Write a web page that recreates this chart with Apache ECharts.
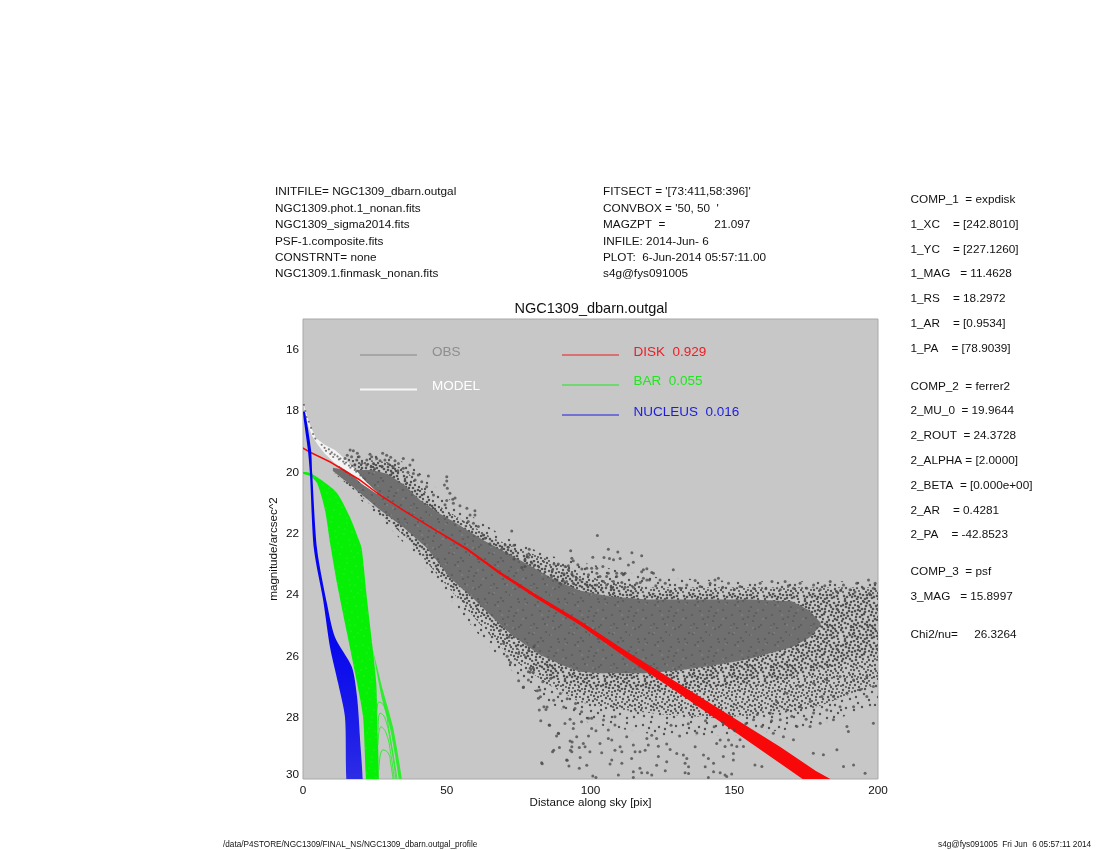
<!DOCTYPE html>
<html><head><meta charset="utf-8">
<style>html,body{margin:0;padding:0;background:#fff}#c{width:1100px;height:850px}</style>
<script src="https://cdn.jsdelivr.net/npm/echarts@6/dist/echarts.min.js"></script>
</head><body><div id="c"></div>
<script>
const chartTitle='NGC1309_dbarn.outgal';
const xAxisName='Distance along sky [pix]';
const yAxisName='magnitude/arcsec^2';
const xTicks=[0,50,100,150,200];
const yTicks=[16,18,20,22,24,26,28,30];
const headerLeft=['INITFILE= NGC1309_dbarn.outgal','NGC1309.phot.1_nonan.fits','NGC1309_sigma2014.fits','PSF-1.composite.fits','CONSTRNT= none','NGC1309.1.finmask_nonan.fits'];
const headerMid=["FITSECT = '[73:411,58:396]'","CONVBOX = '50, 50  '",'MAGZPT  =               21.097','INFILE: 2014-Jun- 6','PLOT:  6-Jun-2014 05:57:11.00','s4g@fys091005'];
const paramText=['COMP_1  = expdisk','1_XC    = [242.8010]','1_YC    = [227.1260]','1_MAG   = 11.4628','1_RS    = 18.2972','1_AR    = [0.9534]','1_PA    = [78.9039]','COMP_2  = ferrer2','2_MU_0  = 19.9644','2_ROUT  = 24.3728','2_ALPHA = [2.0000]','2_BETA  = [0.000e+00]','2_AR    = 0.4281','2_PA    = -42.8523','COMP_3  = psf','3_MAG   = 15.8997','Chi2/nu=     26.3264'];
const footLeft='/data/P4STORE/NGC1309/FINAL_NS/NGC1309_dbarn.outgal_profile';
const footRight='s4g@fys091005  Fri Jun  6 05:57:11 2014';

// Red disk band: radius, bright edge, faint edge
const diskX=[0,2.4,9.4,19.8,25.7,34.8,44.2,57,68.5,81.4,96.3,113.7,131.1,148.5,165.9,178.4,190];
const diskBright=[19.18,19.31,19.63,20.22,20.64,21.2,21.75,22.46,23.23,24,24.84,25.91,26.91,27.93,28.95,29.74,30.34];
const diskFaint=[19.24,19.37,19.69,20.28,20.7,21.26,21.81,22.54,23.33,24.12,24.98,26.13,27.23,28.35,29.49,30.3,31];

// Bar component band edges (x,y pairs)
const barOuter=[0,19.99,2.4,20.02,5.9,20.22,11.8,20.67,16.3,21.46,19.8,22.3,20.5,22.53,22.3,24.16,24.3,25.79,25.5,26.9,25.8,28,26.1,30.6];
const barInner=[22.6,30.6,20.9,27.98,18.8,26.87,15.3,25.24,11.8,23.61,9.4,22.3,7.65,21.23,4.9,20.35,2.4,20.12,0,20.05];
const barRim=[24.3,25.79,27.8,27.1,31.3,28.3,34.4,30,34.6,30.6,33.5,30.6,33.3,30,30.4,28.4,27.5,27.4];
const barArc1=[25.7,27.91,26.4,27.49,28.2,27.62,29.9,28.4,32.7,30];
const barArc2=[26.1,28.4,26.8,27.85,28.5,28.01,30.6,28.89,32.3,30];
const barArc3=[26.1,28.89,27.1,28.3,28.9,28.5,30.6,29.22,31.7,30];
const barArc4=[26.4,29.7,27.8,29.05,29.6,29.15,30.6,29.54,31.3,30];

// Nucleus band edges
const nucLeft=[0,18.03,1.7,19.27,2.4,20.02,3.8,22.5,7,24.16,9.4,25.7,12.2,26.87,14.6,27.98,15.7,30.6];
const nucRight=[20.5,30.6,19.8,28.63,18.8,27.32,17,26.35,11.1,25.37,8.3,24.26,4.9,22.5,3.2,20.02,2.8,19.27,0.7,18.03];

// Model (white) wedge
const modelTop=[0,17.71,1.04,18.03,2.43,18.46,4.52,18.88,7.65,19.11,11.1,19.27,14.6,19.56,18.1,19.89,21.6,20.28,25.7,20.64];
const modelBottom=[25.7,20.71,20.5,20.38,16.3,20.02,11.1,19.7,7.65,19.4,5.2,19.11,3.1,18.81,1.4,18.36,0.35,17.9];

// Observed cloud, read as nested density zones (edges, x,y pairs)
const coreTop=[10.4,19.85,14.6,19.92,19.1,19.92,24,19.92,29.2,20.05,34.8,20.38,40.7,20.9,46.6,21.29,53.6,21.68,62.6,22.21,70.3,22.6,79,23.05,87.7,23.51,96.3,23.85,106.8,24.05,119.7,24.15,131.1,24.15,142.6,24.15,155.5,24.15,170,24.2,176,24.5,180,24.9];
const coreBottom=[180,25,176,25.4,170,25.7,154.4,26.1,142.6,26.3,131.1,26.45,119.7,26.55,103.3,26.55,96.3,26.5,90.4,26.3,82.4,25.95,73,25.34,66.1,24.75,59.1,24.1,51.1,23.44,43.1,22.47,34.8,21.78,26.8,21.23,17.4,20.48,10.4,19.96];
const denseTop=[13,19.7,25,19.72,32,19.85,38,20.3,44,20.95,52,21.5,62,22,75,22.6,88,23.2,100,23.6,120,23.95,150,23.95,180,23.95,200,23.95];
const denseBottom=[200,26,177,26.5,160,26.9,140,27,120,27.1,100,27.05,88,26.8,75,25.8,63,24.7,50,23.55,40,22.5,28,21.45,18,20.6,11,20.05];
const midTop=[14.6,19.6,23,19.6,30,19.67,35.7,19.93,42.7,20.64,47.9,21.13,56.6,21.62,65.4,22.11,75,22.5,90,23,100,23.4,120,23.75,150,23.75,180,23.75,200,23.75];
const midBottom=[200,26.9,177.4,27.7,163,27.9,142.6,28,125,27.9,107,27.7,96.3,27.5,84.9,26.9,73,26.1,62,25,50,23.7,40,22.6];
const sparseTop=[14.6,19.4,30,19.45,38,19.8,45,20.4,55,21.2,70,22.1,85,22.7,100,23,120,23.4,150,23.55,180,23.55,200,23.55];
const sparseBottom=[200,27.6,177,28.3,150,28.6,125,28.6,100,28.2,85,27.5,73,26.5,62,25.4,50,24,40,22.8,30,21.8,20,20.9];

// Observed: individual scatter points (x,y pairs)
const obsRise=[0.3,17.8,0.8,18,1.2,18.2,2,18.35,2.8,18.55,3.5,18.75,4.3,18.9,6.5,19.1,7.5,19.2,8,19.3,9,19.25,9.5,19.4,10,19.35,10.5,19.5,11,19.42,12,19.48,12.5,19.58,13,19.55,14,19.65,14.5,19.72,15,19.68,16,19.78,16.5,19.85,17,19.8,18,19.92,18.5,19.98,19,19.95,20,20.1,21,20.18];
const obsUpperLeft=[16.4,19.27,17.5,19.3,18.9,19.38,15.4,19.44,16.9,19.49,19.5,19.49,14.6,19.55,18.7,19.6,23.3,19.41,23.9,19.49,27.7,19.38,29.1,19.44,30.5,19.51,34.9,19.55,38.2,19.6,25.6,19.55,22.2,19.6,26.8,19.62,28.5,19.6,32,19.62,33.2,19.71,37.2,19.76,24.5,19.71,22.2,19.76,29.7,19.73,31.4,19.82,34.9,19.87,38.4,20.04,40.1,20.09,43.6,20.12,41.3,20.31,39,20.25,43,20.47,45.4,20.74,36.5,20,33,19.95,31,20.02,27.5,19.8,25,19.88,20.5,19.7,18,19.75];
const obsUpperMid=[50,20.14,50,20.28,49.2,20.41,50.2,20.52,51.1,20.68,52.9,20.84,52.1,20.88,50,20.92,49.4,21.06,52.3,21.01,54.6,21.09,57,21.17,59.8,21.25,58.1,21.39,59.8,21.39,57.5,21.6,59.3,21.66,72.6,21.91,61,21.77,62.7,22.04,63.3,22.15,65,22.33,70.3,22.37,73.4,22.38,69.1,22.51,78.7,22.51,71.4,22.44,70.9,22.64,78,22.69,78.4,22.77,77.2,22.85,73.4,22.83,79.6,22.96,77.2,23.07,76.1,23.1,80.4,23.05,93.1,22.56,93.5,22.8,94,22.88,102.4,22.06,106.2,22.51,109.5,22.6,114.4,22.62,117.8,22.72,100.8,22.77,104.7,22.78,106.6,22.81,108,22.85,110.3,22.81,114.9,22.93,113.2,23.02,87.3,22.99,88.8,22.99,91.2,23.07,92.3,23.05,95.6,23.01,86.7,23.2,92.3,23.18,97,23.15,98.7,23.13,100.4,23.13,102.2,23.13,104.3,23.07,117.8,23.24,119.6,23.14,121.9,23.29,102.2,23.29,106.2,23.29,109.1,23.29,110.9,23.29,112,23.29,90.8,23.31,93.5,23.31,94,23.38,99.3,23.34,103.3,23.4,105.6,23.4,118.4,23.45,120.5,23.51,86.5,23.4,90.6,23.54,91.7,23.56,95.2,23.45,96.4,23.51,108,23.56,110.9,23.59,116.1,23.62,117.3,23.59,88.3,23.51,89.4,23.62,105.6,23.67,107.4,23.78,112,23.75,114.9,23.75,94,23.62,98.7,23.67,102.2,23.67,104.5,23.56];
const obsUpperRight=[109.1,23.4,111.4,23.34,118.4,23.18,121.3,23.27,119.6,23.51,124.2,23.51,128.8,23.18,133.5,23.67,136.4,23.53,143.3,23.51,144.5,23.45,141.6,23.62,138.1,23.72,131.2,23.78,127.7,23.89,148,23.62,152,23.72,159,23.62,163.1,23.56,167.7,23.56,172.9,23.62,177.6,23.67,183.4,23.56,188,23.67,192.6,23.62,196.7,23.51,199,23.62,156.7,23.78,166,23.83,170.6,23.78,175.2,23.78,179.9,23.83,185.7,23.89,190.3,23.83,194.9,23.78,198.4,23.78,122.7,23.7,126,23.62,146,23.75,150,23.82,161,23.8,168.8,23.7,181.5,23.7,187,23.85,192,23.9,197,23.95];
const obsLowerLeft=[71,26,72.2,26.2,75,26.8,76.7,27,78.4,26.5,82.4,27.1,83.2,29.5,85.8,28.25,88.9,28.52,93,29.06,91.9,29.39,93.6,28.79,87.2,29.06,94.2,28.19,90.7,27.65,84.9,27.65,82.6,27.32,87.2,27.43,89.5,27.21,91.9,27.38,94.8,27.54,69.8,25.58,71.6,25.37,68.7,25.15,75,25.91,77.4,26.02,78.5,25.8,80.3,25.69];
const obsLowerMid=[76.6,27.02,78.4,26.77,79,26.39,80.1,26.39,79,26.52,80.1,26.52,83,29.47,82.7,28.1,85.6,28.24,82.2,27.75,83.8,27.64,84.5,27.73,81.9,27.37,81.5,27.12,83.4,26.83,86.1,26.72,88.8,28.51,88.2,28.6,89.2,28.97,86.8,29.11,91.7,29.38,92.5,29.58,93.5,28.95,93.5,29.11,91.1,28.19,92.9,28.05,94,28.35,95.2,28.62,97.5,28.84,96.1,28.97,98.1,28.95,92.9,28.76,99.3,28.6,99.8,29.11,103.9,29.14,96.4,29.3,98.7,29.55,96.1,29.65,100.8,29.9,101.9,29.95,96.9,27.81,99.3,28.02,100.4,28.02,94.6,27.7,96.9,28.13,100.4,28.35,101.9,28.43,103.3,28.84,106.2,28.68,107.4,28.73,106.2,28.4,108.5,28.24,108.5,27.97,104.5,28.08,110.3,28.95,110.9,29.11,108.5,29.06,112.6,28.62,107.4,29.38,106.8,29.51,110.9,29.49,109.7,29.87,114.9,28.89,115.5,29.11,114.3,29.33,114.9,29.76,114.9,29.95,117.2,29.11,119,29.06,117.2,29.65,117.8,29.8,119.8,29.8,121.3,29.87,119.6,28.68,121.3,28.57,123,28.68,120.1,28.89,123.6,28.93,126.5,28.86,127.7,29.04,130,29.17,132.3,29.22,133.5,29.33,123.6,29.27,123,29.55,126.5,29.44,126,29.73,132.9,29.49,134.1,29.6,132.9,29.8,134.1,29.82,136.4,28.95,139.3,29.22,141,29.33,142.8,29.49,139.9,29.6,142.8,29.76,145.1,28.73,143.9,28.84,148,28.73,149.1,28.89,146.2,29.27,149.7,29.17,145.1,29.8,146.8,29.87,149.1,29.84,141,29.95];
const obsLowerRight=[177.5,29.16,181,29.21,185.7,29.05,188,29.59,191.5,29.54,195.5,29.81,198.4,28.18,189.2,28.29,189.7,28.45,184.5,28.07,179.9,28.18,176.4,28.29,171.8,28.29,170.6,28.72,167.1,28.62,166,28.07,177.6,27.85,182.2,27.75,186.8,27.64,191.5,27.64,196.1,27.31,198.4,26.98,193.8,27.09,189.2,27.2,184.5,27.31,180.5,27.31,176.4,27.47,172.9,27.64,168.3,27.75,186.8,26.66,191.5,26.77,196.1,26.66,182.2,26.77,177.6,26.88,172.9,26.98,168.3,27.2,164.8,27.47,162.5,27.85,159.6,28.29,156.7,28.07,152,28.72,159.6,29.59,157.2,29.54,147.4,29.92,146.8,28.94,150.9,28.94,149.7,29.38,153.2,28.94,163.6,28.51,154,28.2,150,28.4,143,28.3,137,28.5,131,28.6,128,28.25,134,28.2,140,28.1,146,28.15,158,27.9,163,28.1,170,27.95,175,28.05];

// Stipple textures for the density zones (tile style only, not data)
const tileA=[3,5,11,2,19,7,27,3,36,6,7,13,15,11,24,14,32,12,38,17,2,21,10,19,18,23,29,20,35,25,6,28,14,30,22,27,31,31,38,33,4,36,12,37,20,34,27,38,34,37,9,8,25,9,16,17,30,25,1,30];
const tileB=[7,3,15,5,23,1,31,7,39,2,3,10,12,15,20,11,28,17,36,13,6,18,14,24,23,19,33,21,39,27,1,25,9,33,17,28,26,32,35,29,5,39,13,34,21,38,30,35,38,39,18,2,34,16,11,26,25,24,29,11];
const tileC=[5,1,13,8,21,4,29,1,37,9,1,6,9,11,17,14,26,6,34,3,4,15,12,21,20,17,27,22,37,20,1,16,8,24,16,20,24,29,32,26,39,23,3,32,11,30,19,31,28,27,36,31,7,37,15,36,23,35,32,38,6,7,14,1,22,9,30,5,38,5,2,13,10,5,18,10,25,12,33,9,8,16,16,25,22,22,31,15,35,19,5,23,13,27,20,26,27,35,37,36,2,28,10,35,18,37,25,39,33,33,39,12,24,2,12,12,28,30,17,39];
const tileLight=[6,4,22,15,33,28,14,33,38,10,27,25,3,19,18,6,11,27,31,35];

const pairs=a=>{const r=[];for(let i=0;i<a.length;i+=2)r.push([a[i],a[i+1]]);return r;};
const FONT='"Liberation Sans", Arial, sans-serif';

function tile(bg,layers){
  const c=document.createElement('canvas');c.width=c.height=40;
  const g=c.getContext('2d');
  if(bg){g.fillStyle=bg;g.fillRect(0,0,40,40);}
  layers.forEach(l=>{g.fillStyle=l.color;pairs(l.pts).forEach(p=>{g.beginPath();g.arc(p[0],p[1],l.r,0,Math.PI*2);g.fill();});});
  return {image:c,repeat:'repeat'};
}
const DOT='#525252';
const sparseFill=tile(null,[{pts:tileA,r:1.2,color:DOT}]);
const midFill=tile(null,[{pts:tileB,r:1.2,color:DOT},{pts:tileC,r:1.05,color:DOT}]);
const denseFill=tile(null,[{pts:tileC,r:1.35,color:DOT},{pts:tileA,r:1.2,color:DOT},{pts:tileLight,r:1.3,color:DOT}]);
const coreFill=tile('#6f6f6f',[{pts:tileB,r:1.1,color:'#5c5c5c'},{pts:tileLight,r:0.8,color:'#8c8c8c'}]);
const barFill=tile('#06f006',[{pts:tileA,r:0.6,color:'#44ee44'}]);

function poly(points,fill,smooth){
  return {type:'custom',silent:true,clip:true,animation:false,data:points,encode:{x:0,y:1},
    renderItem(p,api){
      if(p.dataIndex!==0)return null;
      return {type:'polygon',shape:{points:points.map(q=>api.coord(q)),smooth:smooth||0},style:{fill:fill}};
    }};
}
function dots(a,size,color){return {type:'scatter',silent:true,animation:false,symbol:'circle',symbolSize:size||3,itemStyle:{color:color||'#4c4c4c'},data:pairs(a)};}
function arc(a){return {type:'line',silent:true,animation:false,smooth:true,symbol:'none',lineStyle:{color:'#22ee22',width:0.9},data:pairs(a)};}

const diskPoly=diskX.map((x,i)=>[x,diskBright[i]]).concat(diskX.map((x,i)=>[x,diskFaint[i]]).reverse());
const nucFill=new echarts.graphic.LinearGradient(0,0,0,1,[{offset:0,color:'#0000f0'},{offset:0.6,color:'#0808ee'},{offset:0.85,color:'#2020e8'},{offset:1,color:'#3434e4'}]);

const series=[
  poly(pairs(sparseTop).concat(pairs(sparseBottom)),sparseFill),
  poly(pairs(midTop).concat(pairs(midBottom)),midFill),
  poly(pairs(denseTop).concat(pairs(denseBottom)),denseFill),
  poly(pairs(coreTop).concat(pairs(coreBottom)),coreFill),
  dots(obsUpperLeft),dots(obsUpperMid),dots(obsUpperRight),dots(obsLowerLeft),dots(obsLowerMid),dots(obsLowerRight),
  poly(pairs(modelTop).concat(pairs(modelBottom)),'#f4f4f4'),
  dots(obsRise,2.2,'#5a5a5a'),
  poly(diskPoly,'#f80808'),
  poly(pairs(barOuter).concat(pairs(barInner)),barFill,0.25),
  poly(pairs(barRim),'#30ec30',0.2),
  arc(barArc1),arc(barArc2),arc(barArc3),arc(barArc4),
  poly(pairs(nucLeft).concat(pairs(nucRight)),nucFill,0.25)
];

const TS=11.75;
function txt(x,y,t,size,color){return {type:'text',x:x,y:y,silent:true,style:{text:t,fontFamily:FONT,fontSize:size||TS,fill:color||'#111',verticalAlign:'middle',textAlign:'left'}};}
function seg(x1,x2,y,color,w){return {type:'line',silent:true,shape:{x1:x1,y1:y,x2:x2,y2:y},style:{stroke:color,lineWidth:w||1.2}};}
const leftY=[192,208.5,225,241.5,258,274];
const paramY=[200,225,250,274,299,324,349,387,411,436,461,486,511,535,572,597,635];
const elements=[]
  .concat(headerLeft.map((t,i)=>txt(275,leftY[i],t)))
  .concat(headerMid.map((t,i)=>txt(603,leftY[i],t)))
  .concat(paramText.map((t,i)=>txt(910.5,paramY[i],t)))
  .concat([
    txt(223,845,footLeft,8.2),txt(938,845,footRight,8.25),
    seg(360,417,355,'#858585'),txt(432,352,'OBS',13.5,'#8e8e8e'),
    seg(360,417,389.5,'#f6f6f6',2),txt(432,386.5,'MODEL',13.5,'#ffffff'),
    seg(562,619,355,'#ee1c1c'),txt(633.5,352,'DISK  0.929',13.5,'#ee1c24'),
    seg(562,619,385,'#1ce81c'),txt(633.5,381.5,'BAR  0.055',13.5,'#1ce81c'),
    seg(562,619,415,'#1c1ce0'),txt(633.5,412,'NUCLEUS  0.016',13.5,'#1c1ce0'),
    {type:'text',x:590.5,y:803,silent:true,style:{text:xAxisName,fontFamily:FONT,fontSize:11.6,fill:'#111',textAlign:'center',verticalAlign:'middle'}},
    {type:'text',x:274,y:549,rotation:Math.PI/2,silent:true,style:{text:yAxisName,fontFamily:FONT,fontSize:11.6,fill:'#111',textAlign:'center',verticalAlign:'middle'}}
  ]);

const chart=echarts.init(document.getElementById('c'),null,{renderer:'canvas'});
chart.setOption({
  animation:false,
  backgroundColor:'#ffffff',
  title:{text:chartTitle,left:586,top:296,textAlign:'center',textStyle:{fontFamily:FONT,fontSize:14.5,fontWeight:'normal',color:'#111'}},
  grid:{left:303,top:319,width:575,height:460,show:true,backgroundColor:'#c7c7c7',borderColor:'#a8a8a8',borderWidth:1},
  xAxis:{type:'value',min:0,max:200,interval:50,splitLine:{show:false},axisLine:{show:false},axisTick:{show:false},
    axisLabel:{margin:6,fontFamily:FONT,fontSize:11.75,color:'#111',formatter:v=>xTicks.includes(v)?String(v):''}},
  yAxis:{type:'value',inverse:true,min:15,max:30,splitLine:{show:false},axisLine:{show:false},axisTick:{show:false},
    axisLabel:{customValues:yTicks,margin:4,fontFamily:FONT,fontSize:11.75,color:'#111',
      formatter:v=>v===30?'{s|30}':String(v),rich:{s:{fontFamily:FONT,fontSize:11.75,color:'#111',padding:[0,0,8,0]}}}},
  series:series,
  graphic:{elements:elements}
});
</script></body></html>
